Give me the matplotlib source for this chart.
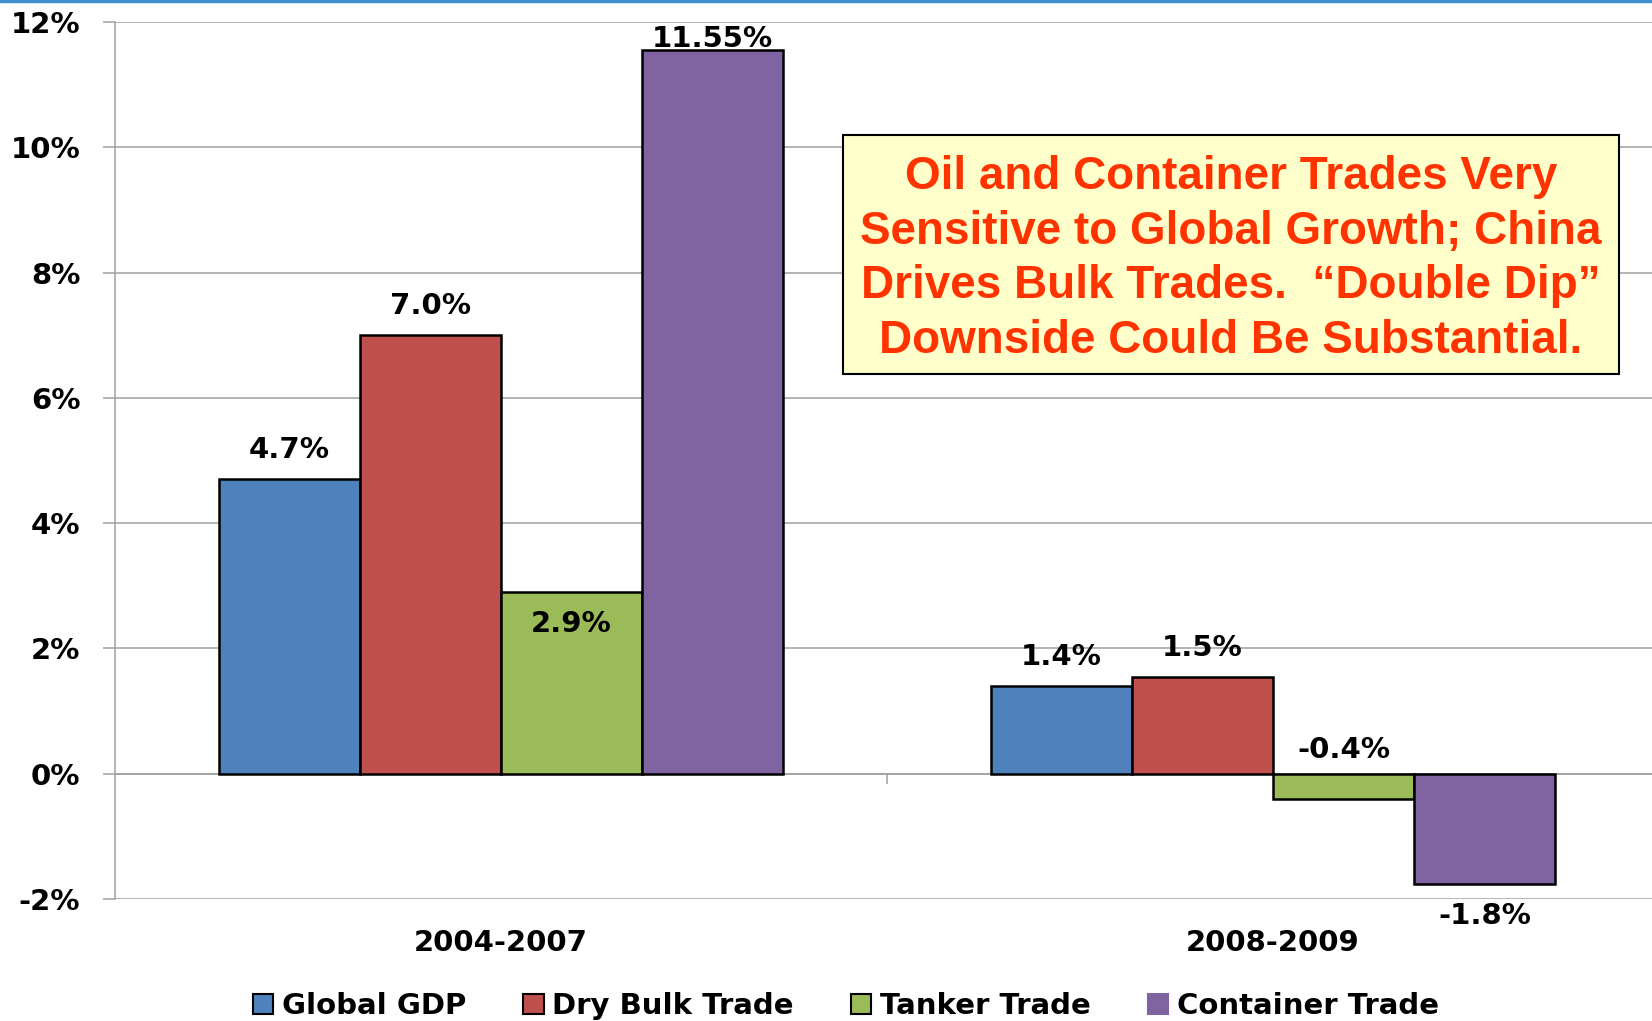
import matplotlib
matplotlib.use("Agg")
import matplotlib.pyplot as plt
from matplotlib.patches import Patch, Rectangle
from matplotlib.lines import Line2D
import numpy as np

# --- data ---
periods = ["2004-2007", "2008-2009"]
series = ["Global GDP", "Dry Bulk Trade", "Tanker Trade", "Container Trade"]
global_gdp = [4.7, 1.4]
dry_bulk = [7.0, 1.54]
tanker = [2.9, -0.4]
container = [11.55, -1.76]
bar_labels = [["4.7%", "1.4%"], ["7.0%", "1.5%"], ["2.9%", "-0.4%"], ["11.55%", "-1.8%"]]
yticks = [-2, 0, 2, 4, 6, 8, 10, 12]
ytick_labels = ["-2%", "0%", "2%", "4%", "6%", "8%", "10%", "12%"]
note = ("Oil and Container Trades Very\n"
        "Sensitive to Global Growth; China\n"
        "Drives Bulk Trades.  \u201cDouble Dip\u201d\n"
        "Downside Could Be Substantial.")

colors = ["#4F81BD", "#C0504D", "#9BBB59", "#8064A2"]
# label offsets in points: (anchor on bar top or on zero line, dy)
label_style = [
    [("top", 21), ("top", 21)],
    [("top", 21), ("top", 21)],
    [("top", -23), ("zero", 17)],
    [("top", 8), ("top", -23)],
]
fs = 21

fig = plt.figure(figsize=(16.52, 10.21), dpi=100)
ax = fig.add_axes([115 / 1652, 122 / 1021, 1544 / 1652, 877 / 1021])

x = np.arange(len(periods))
width = 0.1826
all_vals = [global_gdp, dry_bulk, tanker, container]
for i, vals in enumerate(all_vals):
    pos = x + (i - 1.5) * width
    ax.bar(pos, vals, width, color=colors[i], edgecolor="black", linewidth=1.8, zorder=3)
    for j, v in enumerate(vals):
        anchor, dy = label_style[i][j]
        base = v if anchor == "top" else 0
        ax.annotate(bar_labels[i][j], (pos[j], base), xytext=(0, dy),
                    textcoords="offset points", ha="center", va="center",
                    fontsize=fs, fontweight="bold", zorder=5)

ax.set_xlim(-0.5, 1.5)
ax.set_ylim(-2, 12)
ax.set_yticks(yticks)
ax.set_yticklabels(ytick_labels, fontsize=fs, fontweight="bold")
ax.tick_params(axis="y", length=9, width=1.1, color="#A0A0A0", pad=16)
ax.grid(axis="y", color="#A0A0A0", linewidth=1.1, zorder=0)
ax.set_axisbelow(True)

for s in ["top", "right"]:
    ax.spines[s].set_visible(False)
ax.spines["left"].set_color("#A0A0A0")
ax.spines["left"].set_linewidth(1.1)
ax.spines["bottom"].set_position(("data", 0))
ax.spines["bottom"].set_color("#A0A0A0")
ax.spines["bottom"].set_linewidth(1.1)
ax.set_xticks([0.5])
ax.set_xticklabels([""])
ax.tick_params(axis="x", length=7, width=1.1, color="#A0A0A0", direction="out")

# category labels below the plot
for j, p in enumerate(periods):
    ax.text(x[j], -2.7, p, ha="center", va="center", fontsize=fs, fontweight="bold")

# annotation box
fig.patches.append(Rectangle((843 / 1652, 647 / 1021), 776 / 1652, 239 / 1021,
                             transform=fig.transFigure, facecolor="#FFFFCC",
                             edgecolor="black", linewidth=1.5, zorder=4))
fig.text((843 + 388) / 1652, (647 + 115) / 1021, note, ha="center", va="center",
         fontsize=33, fontweight="bold", color="#FF3300", family="Liberation Sans",
         linespacing=1.31, multialignment="center", zorder=6)

# thin blue line along the top edge
fig.lines.append(Line2D([0, 1], [0.999, 0.999], transform=fig.transFigure,
                        color="#3D8FD0", linewidth=2.5))

handles = [Patch(facecolor=c, edgecolor="black" if k < 3 else c, linewidth=1.5)
           for k, c in enumerate(colors)]
fig.legend(handles, series, loc="lower center", bbox_to_anchor=(0.512, -0.025), ncol=4,
           frameon=False, prop={"size": fs, "weight": "bold"},
           handlelength=0.7, handleheight=0.7, handletextpad=0.3, columnspacing=1.95)

fig.savefig("out.png", dpi=100)
plt.close(fig)
